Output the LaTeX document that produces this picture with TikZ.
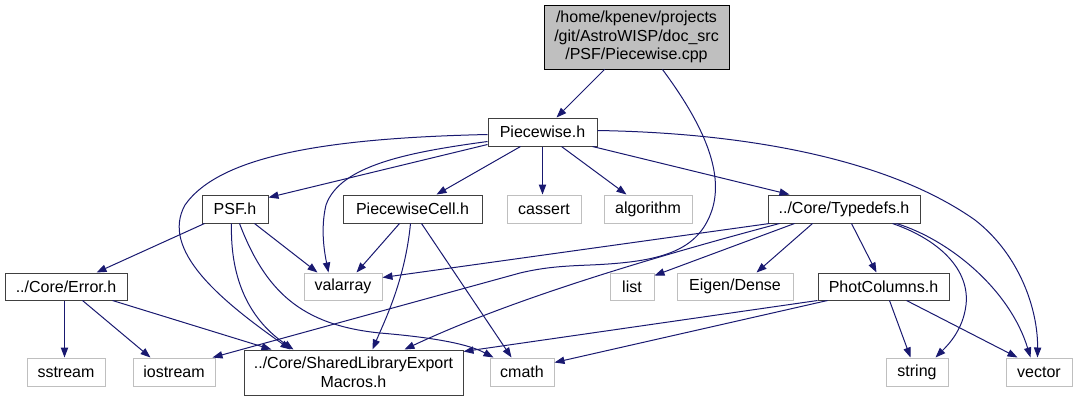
\documentclass[tikz,border=0pt]{standalone}
\usepackage{fontspec}
\setmainfont{Liberation Sans}
\usetikzlibrary{arrows.meta,calc}
\definecolor{edgec}{HTML}{191970}
\definecolor{grayb}{HTML}{BFBFBF}
\definecolor{darkb}{HTML}{404040}
\newcommand\fnode[7]{\node[#2, minimum width={(#5-#3)*0.75pt}, minimum height={(#6-#4)*0.75pt}] (#1) at ({(#3+#5)/2},{(#4+#6)/2}) {#7};}
\begin{document}
\begin{tikzpicture}[x=0.75pt,y=-0.75pt,
  base/.style={rectangle, inner sep=0pt, align=center, font=\fontsize{12}{13.9}\selectfont, line width=0.75pt},
  doc/.style={base, draw=darkb},
  undoc/.style={base, draw=grayb},
  root/.style={base, draw=black, fill=grayb},
  edge/.style={draw=edgec, line width=0.75pt, -{Triangle[length=7.5pt,width=5.5pt]}}]
\useasboundingbox (0,0) rectangle (1075,401);
\fnode{cpp}{root}{544}{5}{729}{69}{/home/kpenev/projects\\/git/AstroWISP/doc\_src\\/PSF/Piecewise.cpp}
\fnode{pwh}{doc}{488}{118}{597}{146}{Piecewise.h}
\fnode{psf}{doc}{202}{195}{268}{223}{PSF.h}
\fnode{cell}{doc}{343}{195}{482}{223}{PiecewiseCell.h}
\fnode{cassert}{undoc}{507}{195}{581}{223}{cassert}
\fnode{algo}{undoc}{604}{195}{692}{223}{algorithm}
\fnode{typedefs}{doc}{768}{195}{920}{223}{../Core/Typedefs.h}
\fnode{error}{doc}{5}{273}{127}{300}{../Core/Error.h}
\fnode{valarray}{undoc}{304}{273}{382}{300}{valarray}
\fnode{list}{undoc}{610}{273}{654}{300}{list}
\fnode{eigen}{undoc}{677}{273}{793}{300}{Eigen/Dense}
\fnode{phot}{doc}{818}{273}{949}{300}{PhotColumns.h}
\fnode{sstream}{undoc}{27}{358}{105}{386}{sstream}
\fnode{iostream}{undoc}{133}{358}{215}{386}{iostream}
\fnode{shared}{doc}{244}{350}{463}{395}{../Core/SharedLibraryExport\\Macros.h}
\fnode{cmath}{undoc}{490}{358}{554}{386}{cmath}
\fnode{string}{undoc}{886}{358}{948}{386}{string}
\fnode{vector}{undoc}{1006}{358}{1072}{386}{vector}
% cpp
\draw[edge] ($(cpp.south west)+(61,0)$) -- ($(pwh.north west)+(69,0)$);
\draw[edge] ($(cpp.south west)+(119,0)$) .. controls (700,120) and (725,170) .. (712,210) .. controls (698,252) and (660,262) .. (590,265) .. controls (565,266) and (545,267) .. (520,273) -- ($(iostream.north west)+(80,0)$);
% Piecewise.h
\draw[edge] ($(pwh.north west)+(0,17)$) .. controls (330,138) and (220,155) .. (185,205) .. controls (160,250) and (220,300) .. ($(shared.north west)+(47,0)$);
\draw[edge] ($(pwh.north west)+(0,27)$) -- ($(psf.north east)+(0,3)$);
\draw[edge] ($(pwh.north west)+(0,24)$) .. controls (410,152) and (340,165) .. (326,205) .. controls (320,230) and (325,255) .. ($(valarray.north west)+(25,0)$);
\draw[edge] ($(pwh.south west)+(33,0)$) -- ($(cell.north west)+(94,0)$);
\draw[edge] ($(pwh.south west)+(55,0)$) -- ($(cassert.north west)+(36,0)$);
\draw[edge] ($(pwh.south west)+(74,0)$) -- ($(algo.north west)+(23,0)$);
\draw[edge] ($(pwh.south west)+(105,0)$) -- ($(typedefs.north west)+(22,0)$);
\draw[edge] ($(pwh.north east)+(0,13)$) .. controls (750,133) and (890,160) .. (975,220) .. controls (1020,255) and (1038,310) .. ($(vector.north west)+(32,0)$);
% PSF.h
\draw[edge] ($(psf.south west)+(3,0)$) -- ($(error.north west)+(92,0)$);
\draw[edge] ($(psf.south west)+(53,0)$) -- ($(valarray.north west)+(14,0)$);
\draw[edge] ($(psf.south west)+(30,0)$) .. controls (230,280) and (250,320) .. ($(shared.north west)+(50,0)$);
\draw[edge] ($(psf.south west)+(38,0)$) .. controls (265,290) and (300,325) .. (380,333) .. controls (440,338) and (470,345) .. ($(cmath.north west)+(4,0)$);
% PiecewiseCell.h
\draw[edge] ($(cell.south west)+(57,0)$) -- ($(valarray.north west)+(53,0)$);
\draw[edge] ($(cell.south west)+(68,0)$) .. controls (405,280) and (385,320) .. ($(shared.north west)+(129,0)$);
\draw[edge] ($(cell.south west)+(79,0)$) -- ($(cmath.north west)+(22,0)$);
% Typedefs.h
\draw[edge] ($(typedefs.south west)+(2,0)$) -- ($(valarray.north east)+(0,5)$);
\draw[edge] ($(typedefs.south west)+(12,0)$) .. controls (680,250) and (520,295) .. ($(shared.north west)+(161,0)$);
\draw[edge] ($(typedefs.south west)+(27,0)$) -- ($(list.north east)+(0,3)$);
\draw[edge] ($(typedefs.south west)+(45,0)$) -- ($(eigen.north west)+(80,0)$);
\draw[edge] ($(typedefs.south west)+(84,0)$) -- ($(phot.north west)+(59,0)$);
\draw[edge] ($(typedefs.south west)+(125,0)$) .. controls (940,240) and (970,270) .. (966,305) .. controls (963,330) and (948,345) .. ($(string.north west)+(50,0)$);
\draw[edge] ($(typedefs.south west)+(129,0)$) .. controls (950,240) and (1010,290) .. ($(vector.north west)+(25,0)$);
% PhotColumns.h
\draw[edge] ($(phot.south west)+(0,0)$) -- ($(shared.north east)+(0,2)$);
\draw[edge] ($(phot.south west)+(10,0)$) -- ($(cmath.north east)+(0,5)$);
\draw[edge] ($(phot.south west)+(72,0)$) -- ($(string.north west)+(25,0)$);
\draw[edge] ($(phot.south west)+(89,0)$) -- ($(vector.north west)+(12,0)$);
% Error.h
\draw[edge] ($(error.south west)+(60,0)$) -- ($(sstream.north west)+(38,0)$);
\draw[edge] ($(error.south west)+(78,0)$) -- ($(iostream.north west)+(18,0)$);
\draw[edge] ($(error.south west)+(108,0)$) -- ($(shared.north west)+(28,0)$);
\end{tikzpicture}
\end{document}
